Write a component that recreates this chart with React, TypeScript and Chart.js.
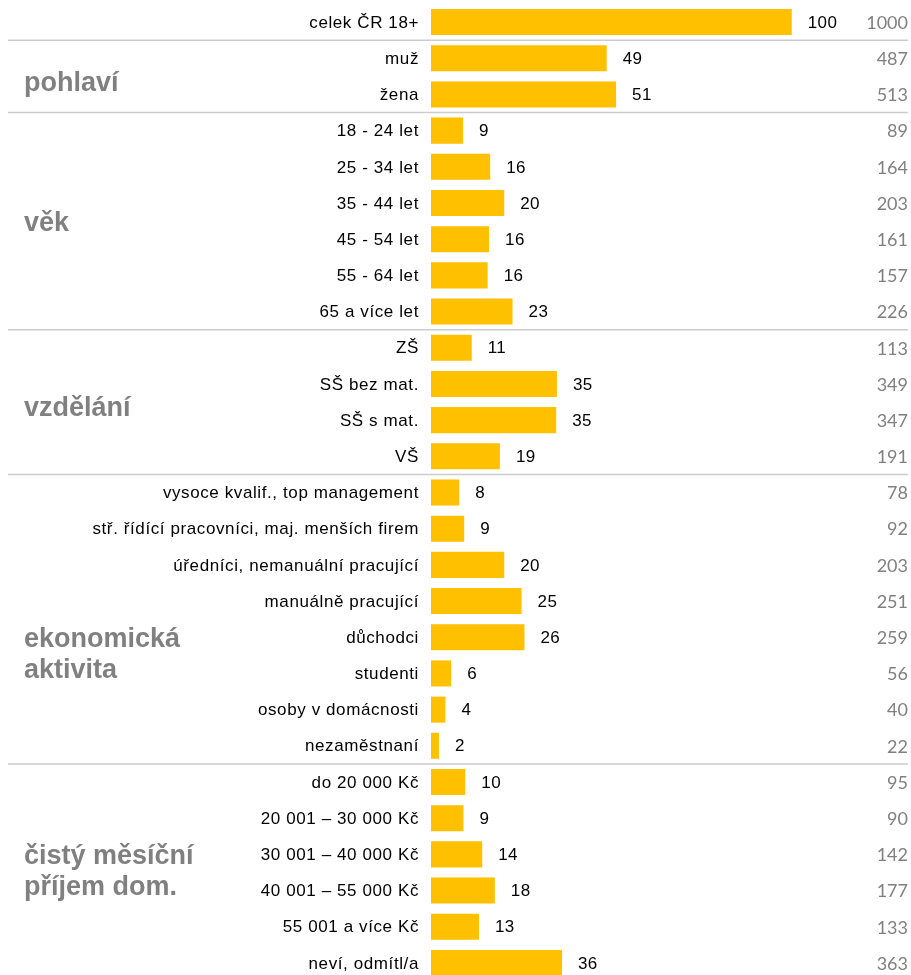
import React, { useEffect, useRef } from "react";
import { Chart, registerables } from "chart.js";

Chart.register(...registerables);

const categories = [
  "celek ČR 18+",
  "muž", "žena",
  "18 - 24 let", "25 - 34 let", "35 - 44 let", "45 - 54 let", "55 - 64 let", "65 a více let",
  "ZŠ", "SŠ bez mat.", "SŠ s mat.", "VŠ",
  "vysoce kvalif., top management", "stř. řídící pracovníci, maj. menších firem",
  "úředníci, nemanuální pracující", "manuálně pracující", "důchodci", "studenti",
  "osoby v domácnosti", "nezaměstnaní",
  "do 20 000 Kč", "20 001 – 30 000 Kč", "30 001 – 40 000 Kč", "40 001 – 55 000 Kč",
  "55 001 a více Kč", "neví, odmítl/a",
];

const shares = [
  100,
  48.7, 51.3,
  8.9, 16.4, 20.3, 16.1, 15.7, 22.6,
  11.3, 34.9, 34.7, 19.1,
  7.8, 9.2, 20.3, 25.1, 25.9, 5.6, 4.0, 2.2,
  9.5, 9.0, 14.2, 17.7, 13.3, 36.3,
];

const valueLabels = [
  "100",
  "49", "51",
  "9", "16", "20", "16", "16", "23",
  "11", "35", "35", "19",
  "8", "9", "20", "25", "26", "6", "4", "2",
  "10", "9", "14", "18", "13", "36",
];

const counts = [
  "1000",
  "487", "513",
  "89", "164", "203", "161", "157", "226",
  "113", "349", "347", "191",
  "78", "92", "203", "251", "259", "56", "40", "22",
  "95", "90", "142", "177", "133", "363",
];

const groupNames = [["pohlaví"], ["věk"], ["vzdělání"], ["ekonomická", "aktivita"], ["čistý měsíční", "příjem dom."]];
const groupStarts = [1, 3, 9, 13, 21];
const groupLabelRows = [1.7, 5.58, 10.68, 17.49, 23.5];

const FONT = "'Liberation Sans', Arial, sans-serif";

const overlayPlugin = {
  id: "overlay",
  afterDatasetsDraw(chart: any) {
    const { ctx } = chart;
    const x = chart.scales.x;
    const y = chart.scales.y;
    ctx.save();
    // separators
    ctx.strokeStyle = "#cccccc";
    ctx.lineWidth = 1.5;
    groupStarts.forEach((s) => {
      const yy = (y.getPixelForValue(s - 1) + y.getPixelForValue(s)) / 2;
      ctx.beginPath();
      ctx.moveTo(8, yy);
      ctx.lineTo(908, yy);
      ctx.stroke();
    });
    // category labels
    ctx.font = `17px ${FONT}`;
    (ctx as any).letterSpacing = "0.6px";
    ctx.fillStyle = "#000000";
    ctx.textAlign = "right";
    ctx.textBaseline = "middle";
    categories.forEach((c, i) => {
      ctx.fillText(c, chart.chartArea.left - 12, y.getPixelForValue(i) + 1);
    });
    // value labels
    ctx.textAlign = "left";
    (ctx as any).letterSpacing = "0.4px";
    shares.forEach((v, i) => {
      ctx.fillText(valueLabels[i], x.getPixelForValue(v) + 16, y.getPixelForValue(i) + 1);
    });
    // counts
    (ctx as any).letterSpacing = "0px";
    ctx.font = `18px Lato, 'Open Sans', sans-serif`;
    ctx.fillStyle = "#808080";
    ctx.textAlign = "right";
    counts.forEach((c, i) => {
      ctx.fillText(c, 908, y.getPixelForValue(i) + 1);
    });
    // group labels
    ctx.font = `bold 27px ${FONT}`;
    ctx.fillStyle = "#808080";
    ctx.textAlign = "left";
    const lh = 31;
    groupNames.forEach((lines, g) => {
      const cy = y.getPixelForValue(groupLabelRows[g]);
      const y0 = cy - ((lines.length - 1) * lh) / 2;
      lines.forEach((t, k) => ctx.fillText(t, 24, y0 + k * lh));
    });
    ctx.restore();
  },
};

export default function App() {
  const ref = useRef<HTMLCanvasElement>(null);
  useEffect(() => {
    if (!ref.current) return;
    const chart = new Chart(ref.current, {
      type: "bar",
      data: {
        labels: categories,
        datasets: [
          {
            data: shares,
            backgroundColor: "#FFC000",
            borderWidth: 0,
            barPercentage: 0.72,
            categoryPercentage: 1,
          },
        ],
      },
      options: {
        indexAxis: "y",
        responsive: false,
        animation: false,
        layout: { padding: { left: 431, right: 11, top: 4, bottom: 9 } },
        scales: {
          x: { display: false, min: 0, max: 130 },
          y: { display: false },
        },
        plugins: { legend: { display: false }, tooltip: { enabled: false } },
      },
      plugins: [overlayPlugin],
    });
    return () => chart.destroy();
  }, []);
  return (
    <div style={{ position: "absolute", left: 0, top: 0, width: 911, height: 990 }}>
      <canvas ref={ref} width={911} height={990} />
    </div>
  );
}
